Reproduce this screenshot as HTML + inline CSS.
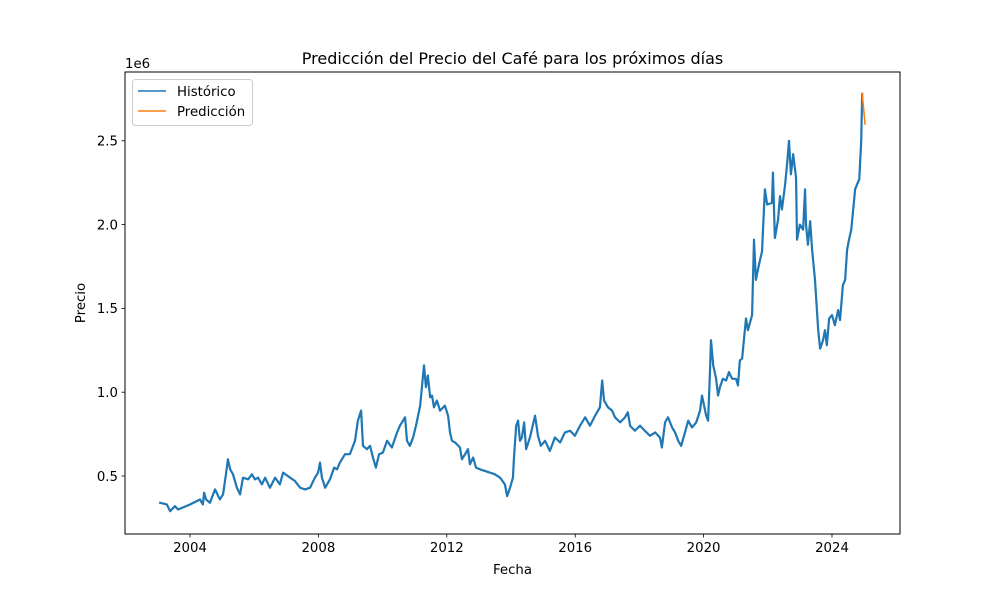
<!DOCTYPE html>
<html><head><meta charset="utf-8"><style>
body{margin:0;background:#fff;font-family:"Liberation Sans","DejaVu Sans",sans-serif}
svg{display:block}
text{font-family:"DejaVu Sans","Liberation Sans",sans-serif;fill:#000}
</style></head><body>
<svg id="chart" width="1000" height="600" viewBox="0 0 1000 600" xmlns="http://www.w3.org/2000/svg">
<rect width="1000" height="600" fill="#fff"/>
<g id="series"></g>
<rect x="125" y="72" width="775" height="462" fill="none" stroke="#000" stroke-width="1"/>
<g id="axes"></g>
<text x="512.5" y="64" font-size="16" text-anchor="middle">Predicción del Precio del Café para los próximos días</text>
<text x="512.5" y="574" font-size="13.3" text-anchor="middle">Fecha</text>
<text x="85" y="303" font-size="13.3" text-anchor="middle" transform="rotate(-90 85 303)">Precio</text>
<text x="125" y="68" font-size="13.3">1e6</text>
<g>
<rect x="132.5" y="79.5" width="120" height="46" rx="3" fill="#fff" fill-opacity="0.8" stroke="#ccc"/>
<line x1="138" y1="91" x2="166" y2="91" stroke="#1f77b4" stroke-width="1.5"/>
<text x="177" y="96" font-size="13.3">Histórico</text>
<line x1="138" y1="111" x2="166" y2="111" stroke="#ff7f0e" stroke-width="1.5"/>
<text x="177" y="116" font-size="13.3">Predicción</text>
</g>
</svg>
<script>
const histYears=[2003.07,2003.28,2003.38,2003.53,2003.63,2003.75,2004.00,2004.31,2004.40,2004.44,2004.50,2004.62,2004.78,2004.93,2005.03,2005.12,2005.18,2005.25,2005.34,2005.46,2005.56,2005.65,2005.81,2005.93,2006.02,2006.12,2006.24,2006.34,2006.49,2006.65,2006.80,2006.90,2007.12,2007.27,2007.43,2007.58,2007.74,2007.89,2007.99,2008.05,2008.11,2008.21,2008.36,2008.49,2008.58,2008.67,2008.83,2008.98,2009.14,2009.23,2009.33,2009.39,2009.51,2009.61,2009.70,2009.79,2009.89,2010.01,2010.14,2010.29,2010.45,2010.54,2010.70,2010.76,2010.85,2010.95,2011.04,2011.17,2011.23,2011.29,2011.35,2011.41,2011.48,2011.54,2011.60,2011.69,2011.79,2011.94,2012.04,2012.10,2012.16,2012.26,2012.41,2012.47,2012.57,2012.66,2012.72,2012.82,2012.91,2013.03,2013.35,2013.50,2013.66,2013.81,2013.88,2013.97,2014.06,2014.09,2014.16,2014.22,2014.28,2014.34,2014.41,2014.47,2014.59,2014.75,2014.84,2014.93,2015.06,2015.21,2015.37,2015.53,2015.68,2015.84,2015.99,2016.15,2016.31,2016.46,2016.62,2016.77,2016.84,2016.90,2017.02,2017.15,2017.24,2017.40,2017.55,2017.64,2017.71,2017.86,2018.02,2018.17,2018.33,2018.49,2018.64,2018.70,2018.80,2018.89,2019.02,2019.11,2019.21,2019.30,2019.42,2019.52,2019.64,2019.77,2019.89,2019.95,2020.08,2020.14,2020.20,2020.23,2020.30,2020.39,2020.45,2020.51,2020.60,2020.70,2020.79,2020.89,2021.01,2021.07,2021.13,2021.20,2021.26,2021.32,2021.38,2021.51,2021.57,2021.63,2021.69,2021.76,2021.82,2021.88,2021.91,2021.98,2022.13,2022.16,2022.22,2022.32,2022.38,2022.44,2022.54,2022.60,2022.66,2022.72,2022.79,2022.88,2022.91,2023.00,2023.10,2023.16,2023.19,2023.25,2023.32,2023.38,2023.47,2023.57,2023.63,2023.72,2023.78,2023.84,2023.91,2024.00,2024.09,2024.19,2024.25,2024.34,2024.41,2024.47,2024.53,2024.60,2024.66,2024.72,2024.78,2024.85,2024.91,2024.94];
const histValues=[0.34,0.33,0.29,0.32,0.30,0.31,0.33,0.36,0.33,0.40,0.36,0.34,0.42,0.36,0.39,0.51,0.60,0.54,0.51,0.43,0.39,0.49,0.48,0.51,0.48,0.49,0.45,0.49,0.43,0.49,0.45,0.52,0.49,0.47,0.43,0.42,0.43,0.49,0.52,0.58,0.49,0.43,0.48,0.55,0.54,0.58,0.63,0.63,0.71,0.83,0.89,0.68,0.66,0.68,0.61,0.55,0.63,0.64,0.71,0.67,0.76,0.80,0.85,0.71,0.68,0.73,0.80,0.92,1.04,1.16,1.03,1.10,0.97,0.98,0.91,0.95,0.89,0.92,0.86,0.76,0.71,0.70,0.67,0.60,0.63,0.66,0.57,0.61,0.55,0.54,0.52,0.51,0.49,0.45,0.38,0.43,0.49,0.60,0.80,0.83,0.71,0.73,0.82,0.66,0.73,0.86,0.74,0.68,0.71,0.65,0.73,0.70,0.76,0.77,0.74,0.80,0.85,0.80,0.86,0.91,1.07,0.95,0.91,0.89,0.85,0.82,0.85,0.88,0.80,0.77,0.80,0.77,0.74,0.76,0.73,0.67,0.82,0.85,0.79,0.76,0.71,0.68,0.76,0.83,0.79,0.82,0.89,0.98,0.86,0.83,1.13,1.31,1.16,1.08,0.98,1.03,1.08,1.07,1.12,1.08,1.08,1.04,1.19,1.20,1.32,1.44,1.37,1.46,1.91,1.67,1.73,1.79,1.84,2.09,2.21,2.12,2.13,2.31,1.92,2.03,2.17,2.09,2.24,2.36,2.50,2.30,2.42,2.28,1.91,2.00,1.97,2.21,2.00,1.88,2.02,1.85,1.67,1.37,1.26,1.31,1.37,1.28,1.44,1.46,1.40,1.49,1.43,1.64,1.67,1.85,1.91,1.97,2.09,2.21,2.24,2.27,2.50,2.78];
const predYears=[2024.94,2025.03];
const predValues=[2.78,2.60];
const xTicks=[2004,2008,2012,2016,2020,2024];
const yTicks=[0.5,1.0,1.5,2.0,2.5];

const NS="http://www.w3.org/2000/svg";
function xs(yr){return 190+(yr-2004)*32.1;}
function ys(v){return 476-(v-0.5)*167.6;}
const axes=document.getElementById('axes');
const series=document.getElementById('series');
function mk(tag,attrs,parent){const e=document.createElementNS(NS,tag);for(const k in attrs)e.setAttribute(k,attrs[k]);parent.appendChild(e);return e;}
xTicks.forEach(t=>{
  const x=xs(t);
  const l=mk('line',{x1:x,x2:x,y1:534,y2:537.5,stroke:'#000','stroke-width':0.8},axes);
  
  
  const tx=mk('text',{x:x,y:552,'font-size':13.3,'text-anchor':'middle'},axes);
  tx.textContent=String(t);
  
  
});
yTicks.forEach(t=>{
  const y=ys(t);
  const l=mk('line',{x1:121.5,x2:125,y1:y,y2:y,stroke:'#000','stroke-width':0.8},axes);
  
  
  const tx=mk('text',{x:118,y:y+4.8,'font-size':13.3,'text-anchor':'end'},axes);
  tx.textContent=t.toFixed(1);
  
  
});
function path(xsArr,vsArr,color,name,w){
  const d=xsArr.map((yr,i)=>(i?'L':'M')+xs(yr).toFixed(2)+' '+ys(vsArr[i]).toFixed(2)).join(' ');
  const p=mk('path',{d:d,fill:'none',stroke:color,'stroke-width':w,'stroke-linejoin':'round','stroke-linecap':'square'},series);
  
  
}
path(histYears,histValues,'#1f77b4','historico-line',2.2);
path(predYears,predValues,'#ff7f0e','prediccion-line',1.6);
</script>
</body></html>
